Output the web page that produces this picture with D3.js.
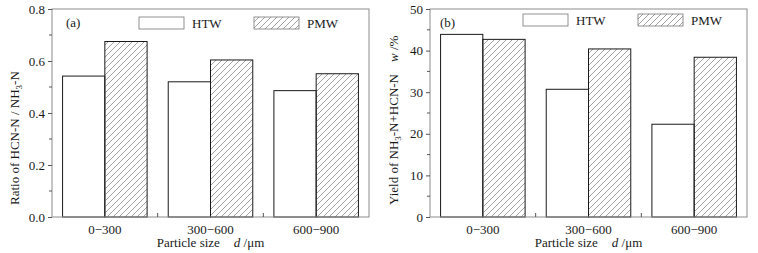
<!DOCTYPE html>
<html>
<head>
<meta charset="utf-8">
<title>Particle size bars</title>
<script src="https://d3js.org/d3.v7.min.js"></script>
<style>
body { margin: 0; background: #fff; }
text { font-family: "Liberation Serif", "Times New Roman", serif; font-size: 13px; fill: #1a1a1a; }
.frame { fill: none; stroke: #8c8c8c; stroke-width: 1; }
.bar { stroke: #1a1a1a; stroke-width: 1; }
</style>
</head>
<body>
<svg id="chart" width="758" height="253"></svg>
<script>
// data
var categories = ["0\u2212300", "300\u2212600", "600\u2212900"];
var series = ["HTW", "PMW"];
var ratioHTW = [0.542, 0.520, 0.486];
var ratioPMW = [0.675, 0.604, 0.551];
var yieldHTW = [43.9, 30.7, 22.3];
var yieldPMW = [42.7, 40.4, 38.4];
var ratioTicks = [0, 0.2, 0.4, 0.6, 0.8];
var yieldTicks = [0, 10, 20, 30, 40, 50];

var svg = d3.select("#chart");

// hatch for PMW
svg.append("defs").append("pattern")
    .attr("id", "hatch")
    .attr("patternUnits", "userSpaceOnUse")
    .attr("width", 6).attr("height", 6)
  .append("path")
    .attr("d", "M-1,1 l2,-2 M0,6 l6,-6 M5,7 l2,-2")
    .attr("stroke", "#8a8a8a")
    .attr("stroke-width", 0.8);

function panel(p) {
  var g = svg.append("g");
  var top = 9, bottom = 217;

  var x = d3.scaleBand().domain(categories)
      .range([p.left, p.right]).paddingInner(0.2).paddingOuter(0.1);
  var xs = d3.scaleBand().domain(series).range([0, x.bandwidth()]);
  var y = d3.scaleLinear().domain(p.domain).range([bottom, top]);

  // bars
  var rows = categories.map(function(c, i) {
    return [{ c: c, s: "HTW", v: p.htw[i] }, { c: c, s: "PMW", v: p.pmw[i] }];
  });
  g.selectAll("g.grp").data(rows).enter().append("g")
    .selectAll("rect").data(function(d) { return d; }).enter().append("rect")
      .attr("class", "bar")
      .attr("x", function(d) { return x(d.c) + xs(d.s); })
      .attr("y", function(d) { return y(d.v); })
      .attr("width", xs.bandwidth())
      .attr("height", function(d) { return bottom - y(d.v); })
      .attr("fill", function(d) { return d.s == "PMW" ? "url(#hatch)" : "#fff"; });

  // frame
  g.append("rect").attr("class", "frame")
    .attr("x", p.left).attr("y", top)
    .attr("width", p.right - p.left).attr("height", bottom - top);

  // y axis
  var ya = g.append("g").attr("transform", "translate(" + p.left + ",0)")
    .call(d3.axisLeft(y).tickValues(p.ticks).tickFormat(p.fmt).tickSize(4).tickPadding(3));
  ya.select(".domain").remove();
  ya.selectAll("line").attr("stroke", "#555");
  ya.selectAll("text").attr("font-size", 13).attr("font-family", "Liberation Serif").attr("fill", "#1a1a1a");
  var step = p.ticks[1] - p.ticks[0];
  var minor = p.ticks.slice(0, -1).map(function(t) { return t + step / 2; });
  g.selectAll("line.minor").data(minor).enter().append("line")
    .attr("x1", p.left - 3).attr("x2", p.left)
    .attr("y1", function(d) { return y(d); }).attr("y2", function(d) { return y(d); })
    .attr("stroke", "#555");

  // x ticks between groups, inward
  var bounds = categories.slice(1).map(function(c) { return x(c) - x.step() * x.paddingInner() / 2 ; });
  g.selectAll("line.xt").data(bounds).enter().append("line")
    .attr("x1", function(d) { return d; }).attr("x2", function(d) { return d; })
    .attr("y1", bottom).attr("y2", bottom - 4)
    .attr("stroke", "#555");
  g.selectAll("text.xl").data(categories).enter().append("text")
    .attr("x", function(d) { return x(d) + x.bandwidth() / 2; })
    .attr("y", 234)
    .attr("text-anchor", "middle")
    .text(function(d) { return d; });

  // x title
  var xt = g.append("text").attr("x", (p.left + p.right) / 2).attr("y", 247)
    .attr("text-anchor", "middle");
  xt.append("tspan").text("Particle size");
  xt.append("tspan").attr("dx", 14).attr("font-style", "italic").text("d");
  xt.append("tspan").text(" /\u03bcm");

  // y title
  var yt = g.append("text")
    .attr("transform", "translate(" + p.titleX + ",205) rotate(-90)");
  p.title(yt);

  // panel tag
  g.append("text").attr("x", p.left + p.tagDx).attr("y", 27).text(p.tag);

  // legend
  var lg = g.append("g").attr("transform", "translate(" + p.legX + "," + p.legY + ")");
  series.forEach(function(s, i) {
    var ox = i * 115;
    lg.append("rect").attr("x", ox).attr("y", 0).attr("width", 45).attr("height", 12)
      .attr("fill", s == "PMW" ? "url(#hatch)" : "#fff")
      .attr("stroke", "#777").attr("stroke-width", 0.8);
    lg.append("text").attr("x", ox + 53).attr("y", 11).text(s);
  });
}

panel({
  left: 52, right: 369, domain: [0, 0.8], ticks: ratioTicks,
  htw: ratioHTW, pmw: ratioPMW, fmt: d3.format(".1f"),
  titleX: 19, tag: "(a)", tagDx: 14, legX: 139, legY: 17,
  title: function(t) {
    t.append("tspan").text("Ratio of HCN-N / NH");
    t.append("tspan").attr("font-size", 9).attr("dy", 3).text("3");
    t.append("tspan").attr("dy", -3).text("-N");
  }
});

panel({
  left: 430, right: 747, domain: [0, 50], ticks: yieldTicks,
  htw: yieldHTW, pmw: yieldPMW, fmt: d3.format("d"),
  titleX: 398, tag: "(b)", tagDx: 10, legX: 523, legY: 14,
  title: function(t) {
    t.append("tspan").text("Yield of NH");
    t.append("tspan").attr("font-size", 9).attr("dy", 3).text("3");
    t.append("tspan").attr("dy", -3).text("-N+HCN-N");
    t.append("tspan").attr("dx", 12).attr("font-style", "italic").text("w");
    t.append("tspan").text(" /%");
  }
});
</script>
</body>
</html>
